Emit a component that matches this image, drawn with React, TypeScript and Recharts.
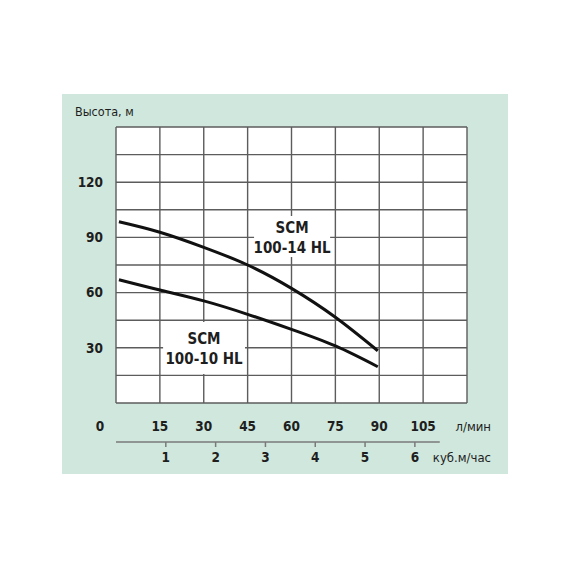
import React from "react";
import {
  CartesianGrid,
  Line,
  LineChart,
  ReferenceArea,
  ReferenceLine,
  XAxis,
  YAxis,
} from "recharts";

// flow in l/min and head in m
const flowLpm = [1, 15, 30, 45, 60, 75, 89.5];
const head14 = [98.5, 92.8, 84.6, 75, 62.3, 46.6, 28.4];
const head10 = [67, 61.4, 55.5, 48.2, 40, 31, 19.7];

const flowTicks = [0, 15, 30, 45, 60, 75, 90, 105];
const cubicTicks = [1, 2, 3, 4, 5, 6];
const headTicks = [30, 60, 90, 120];
const gridFlow = [0, 15, 30, 45, 60, 75, 90, 105, 120];
const gridHead = [0, 15, 30, 45, 60, 75, 90, 105, 120, 135, 150];

// the printed m3/h scale is a touch wider than 1000/60 l/min per unit
const LPM_PER_M3 = 17.03;
const CUBIC_END = 6.5;

const seriesLabels = [
  { key: "h14", name: "SCM", model: "100-14 HL", x1: 47.2, x2: 73.2, y1: 79.3, y2: 101.6 },
  { key: "h10", name: "SCM", model: "100-10 HL", x1: 16.1, x2: 44.1, y1: 15.8, y2: 44 },
];

const data = flowLpm.map((q, i) => ({ q, h14: head14[i], h10: head10[i] }));

const FONT = "'Liberation Sans Narrow', 'DejaVu Sans Condensed', 'Open Sans', sans-serif";
const INK = "#1e1e1e";
const GRID = "#5c5c5c";
const RULE = "#7a7a7a";

function FlowTick({ x, y, payload }: any) {
  const shift = payload.value === 0 ? -16 : 0;
  return (
    <text
      x={x + shift}
      y={y}
      dy="0.71em"
      textAnchor="middle"
      fontFamily={FONT}
      fontSize={13.5}
      fontWeight={700}
      fill={INK}
    >
      {payload.value}
    </text>
  );
}

function SeriesLabel({ viewBox, name, model }: any) {
  if (!viewBox) return null;
  const cx = viewBox.x + viewBox.width / 2;
  const cy = viewBox.y + viewBox.height / 2;
  const common = {
    x: cx,
    textAnchor: "middle" as const,
    fontFamily: FONT,
    fontSize: 15,
    fontWeight: 700,
    fill: INK,
  };
  return (
    <g>
      <text {...common} y={cy - 4}>
        {name}
      </text>
      <text {...common} y={cy + 16}>
        {model}
      </text>
    </g>
  );
}

export default function App() {
  return (
    <div style={{ position: "absolute", left: 0, top: 0, width: 570, height: 570, background: "#fff" }}>
      <div
        style={{
          position: "absolute",
          left: 62,
          top: 94,
          width: 446,
          height: 380,
          background: "#cfe7dc",
        }}
      />
      <div style={{ position: "absolute", left: 0, top: 0 }}>
        <LineChart
          width={570}
          height={570}
          data={data}
          margin={{ top: 127, right: 103, bottom: 98, left: 66 }}
        >
          <CartesianGrid
            fill="#ffffff"
            stroke={GRID}
            strokeWidth={1.4}
            horizontalValues={gridHead}
            verticalValues={gridFlow}
          />
          <XAxis
            dataKey="q"
            type="number"
            domain={[0, 120]}
            ticks={flowTicks}
            interval={0}
            axisLine={false}
            tickLine={false}
            tickSize={6}
            tickMargin={12}
            height={39}
            tick={<FlowTick />}
            label={{
              content: ({ viewBox }: any) => (
                <text
                  x={viewBox.x + viewBox.width + 24}
                  y={viewBox.y + 28}
                  textAnchor="end"
                  fontFamily={FONT}
                  fontSize={13}
                  fill={INK}
                >
                  л/мин
                </text>
              ),
            }}
          />
          <XAxis
            xAxisId="m3"
            dataKey="q"
            type="number"
            domain={[0, 120]}
            ticks={cubicTicks.map((c) => c * LPM_PER_M3)}
            tickFormatter={(v: number) => String(Math.round(v / LPM_PER_M3))}
            interval={0}
            axisLine={false}
            tickLine={{ stroke: RULE, strokeWidth: 1.5 }}
            tickSize={5}
            tickMargin={5}
            height={30}
            tick={{ fontFamily: FONT, fontSize: 13.5, fontWeight: 700, fill: INK }}
            label={{
              content: ({ viewBox }: any) => (
                <text
                  x={viewBox.x + viewBox.width + 24}
                  y={viewBox.y + 20}
                  textAnchor="end"
                  fontFamily={FONT}
                  fontSize={13}
                  fill={INK}
                >
                  куб.м/час
                </text>
              ),
            }}
          />
          <YAxis
            type="number"
            domain={[0, 150]}
            ticks={headTicks}
            interval={0}
            width={50}
            axisLine={false}
            tickLine={false}
            tickSize={6}
            tickMargin={7}
            tick={{ fontFamily: FONT, fontSize: 13.5, fontWeight: 700, fill: INK }}
            label={{
              content: ({ viewBox }: any) => (
                <text
                  x={viewBox.x + 9}
                  y={viewBox.y - 11}
                  textAnchor="start"
                  fontFamily={FONT}
                  fontSize={12.5}
                  fill={INK}
                >
                  Высота, м
                </text>
              ),
            }}
          />
          <ReferenceLine
            xAxisId="m3"
            segment={[
              { x: 0, y: -21.2 },
              { x: CUBIC_END * LPM_PER_M3, y: -21.2 },
            ]}
            ifOverflow="visible"
            stroke={RULE}
            strokeWidth={1.5}
          />
          {seriesLabels.map((s) => (
            <ReferenceArea
              key={s.key}
              x1={s.x1}
              x2={s.x2}
              y1={s.y1}
              y2={s.y2}
              fill="#ffffff"
              fillOpacity={1}
              stroke="none"
              label={{
                content: (props: any) => (
                  <SeriesLabel viewBox={props.viewBox} name={s.name} model={s.model} />
                ),
              }}
            />
          ))}
          <Line
            type="natural"
            dataKey="h14"
            stroke="#111"
            strokeWidth={3}
            dot={false}
            isAnimationActive={false}
          />
          <Line
            type="natural"
            dataKey="h10"
            stroke="#111"
            strokeWidth={3}
            dot={false}
            isAnimationActive={false}
          />
        </LineChart>
      </div>
    </div>
  );
}
